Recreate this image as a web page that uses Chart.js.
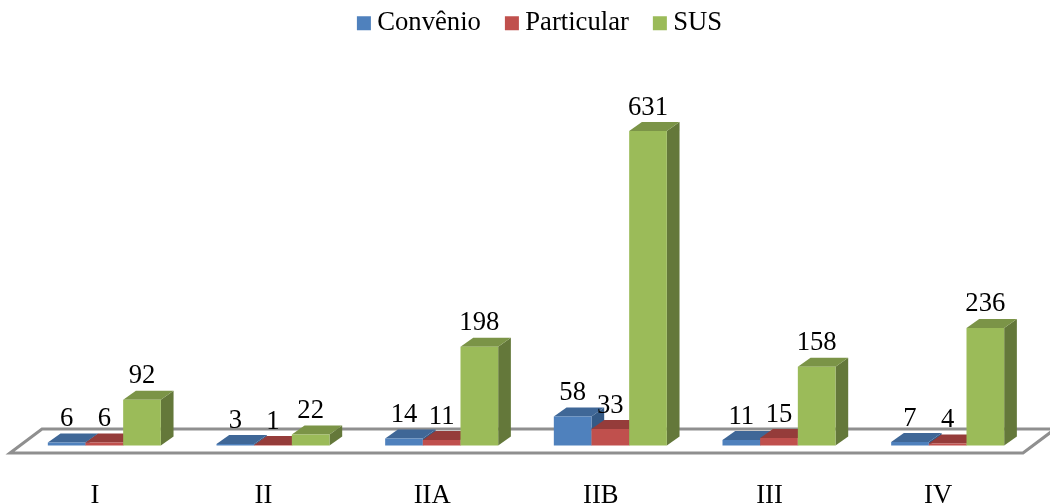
<!DOCTYPE html>
<html>
<head>
<meta charset="utf-8">
<script src="https://cdn.jsdelivr.net/npm/chart.js@4/dist/chart.umd.min.js"></script>
<style>html,body{margin:0;padding:0;background:#fff;overflow:hidden}canvas{display:block}</style>
</head>
<body>
<canvas id="c" width="1050" height="503"></canvas>
<script>
const categories = ['I','II','IIA','IIB','III','IV'];
const convenio = [6,3,14,58,11,7];
const particular = [6,1,11,33,15,4];
const sus = [92,22,198,631,158,236];

const FONT = '"Liberation Serif","Times New Roman",serif';
const FS = 26.67;
const DEPTH_X = 12.7, DEPTH_Y = 9;
const shades = [
  {top:'#3f6797', side:'#345a86'},
  {top:'#953c3a', side:'#7d3230'},
  {top:'#7b9447', side:'#64783a'}
];

function poly(ctx, pts, fill){
  ctx.beginPath();
  pts.forEach((p,i)=> i ? ctx.lineTo(p[0],p[1]) : ctx.moveTo(p[0],p[1]));
  ctx.closePath();
  ctx.fillStyle = fill;
  ctx.fill();
}

const scene3d = {
  id:'scene3d',
  afterLayout(chart){
    const lg = chart.legend;
    lg.left += 17; lg.right += 17;
    lg.top += -50; lg.bottom += -50;
  },
  beforeDatasetsDraw(chart){
    const ctx = chart.ctx, a = chart.chartArea;
    const y0 = chart.scales.y.getPixelForValue(0);
    ctx.save();
    ctx.beginPath();
    ctx.moveTo(a.left-10, y0+7.5);
    ctx.lineTo(a.left+22, y0-16.5);
    ctx.lineTo(a.right+23, y0-16.5);
    ctx.lineTo(a.right-9, y0+7.5);
    ctx.closePath();
    ctx.fillStyle='#fff';
    ctx.fill();
    ctx.lineWidth=3;
    ctx.strokeStyle='#8f8f8f';
    ctx.stroke();
    // left-to-right painter's order: each series' faces, then its library-drawn front
    chart.data.datasets.forEach((ds,i)=>{
      const meta = chart.getDatasetMeta(i), s = shades[i];
      meta.data.forEach(b=>{
        const l=b.x-b.width/2, r=b.x+b.width/2, t=b.y, bt=b.base;
        poly(ctx,[[r,t],[r+DEPTH_X,t-DEPTH_Y],[r+DEPTH_X,bt-DEPTH_Y],[r,bt]],s.side);
        poly(ctx,[[l,t],[l+DEPTH_X,t-DEPTH_Y],[r+DEPTH_X,t-DEPTH_Y],[r,t]],s.top);
      });
      meta.controller.draw();
    });
    ctx.font = FS+'px '+FONT;
    ctx.fillStyle='#000';
    ctx.textAlign='center';
    ctx.textBaseline='alphabetic';
    chart.data.datasets.forEach((ds,i)=>{
      chart.getDatasetMeta(i).data.forEach((b,j)=>{
        ctx.fillText(String(ds.data[j]), b.x, b.y-16.5);
      });
    });
    ctx.restore();
    return false;
  }
};

new Chart(document.getElementById('c'),{
  type:'bar',
  data:{
    labels:categories,
    datasets:[
      {label:'Convênio',data:convenio,backgroundColor:'#4f81bd'},
      {label:'Particular',data:particular,backgroundColor:'#c0504d'},
      {label:'SUS',data:sus,backgroundColor:'#9bbb59'}
    ]
  },
  options:{
    responsive:false,
    animation:false,
    layout:{padding:{left:20,right:18,top:29,bottom:0}},
    datasets:{bar:{categoryPercentage:0.67,barPercentage:1,borderWidth:0}},
    scales:{
      x:{
        grid:{display:false},
        border:{display:false},
        ticks:{color:'#000',font:{family:FONT,size:FS},padding:26,labelOffset:-9.5,autoSkip:false,maxRotation:0},
        afterFit(s){s.height=57.5;}
      },
      y:{display:false,min:0,max:700}
    },
    plugins:{
      tooltip:{enabled:false},
      legend:{
        position:'top',
        labels:{color:'#000',font:{family:FONT,size:FS},boxWidth:0.01,boxHeight:14,usePointStyle:true,pointStyle:'rect',padding:31}
      }
    }
  },
  plugins:[scene3d]
});
</script>
</body>
</html>
